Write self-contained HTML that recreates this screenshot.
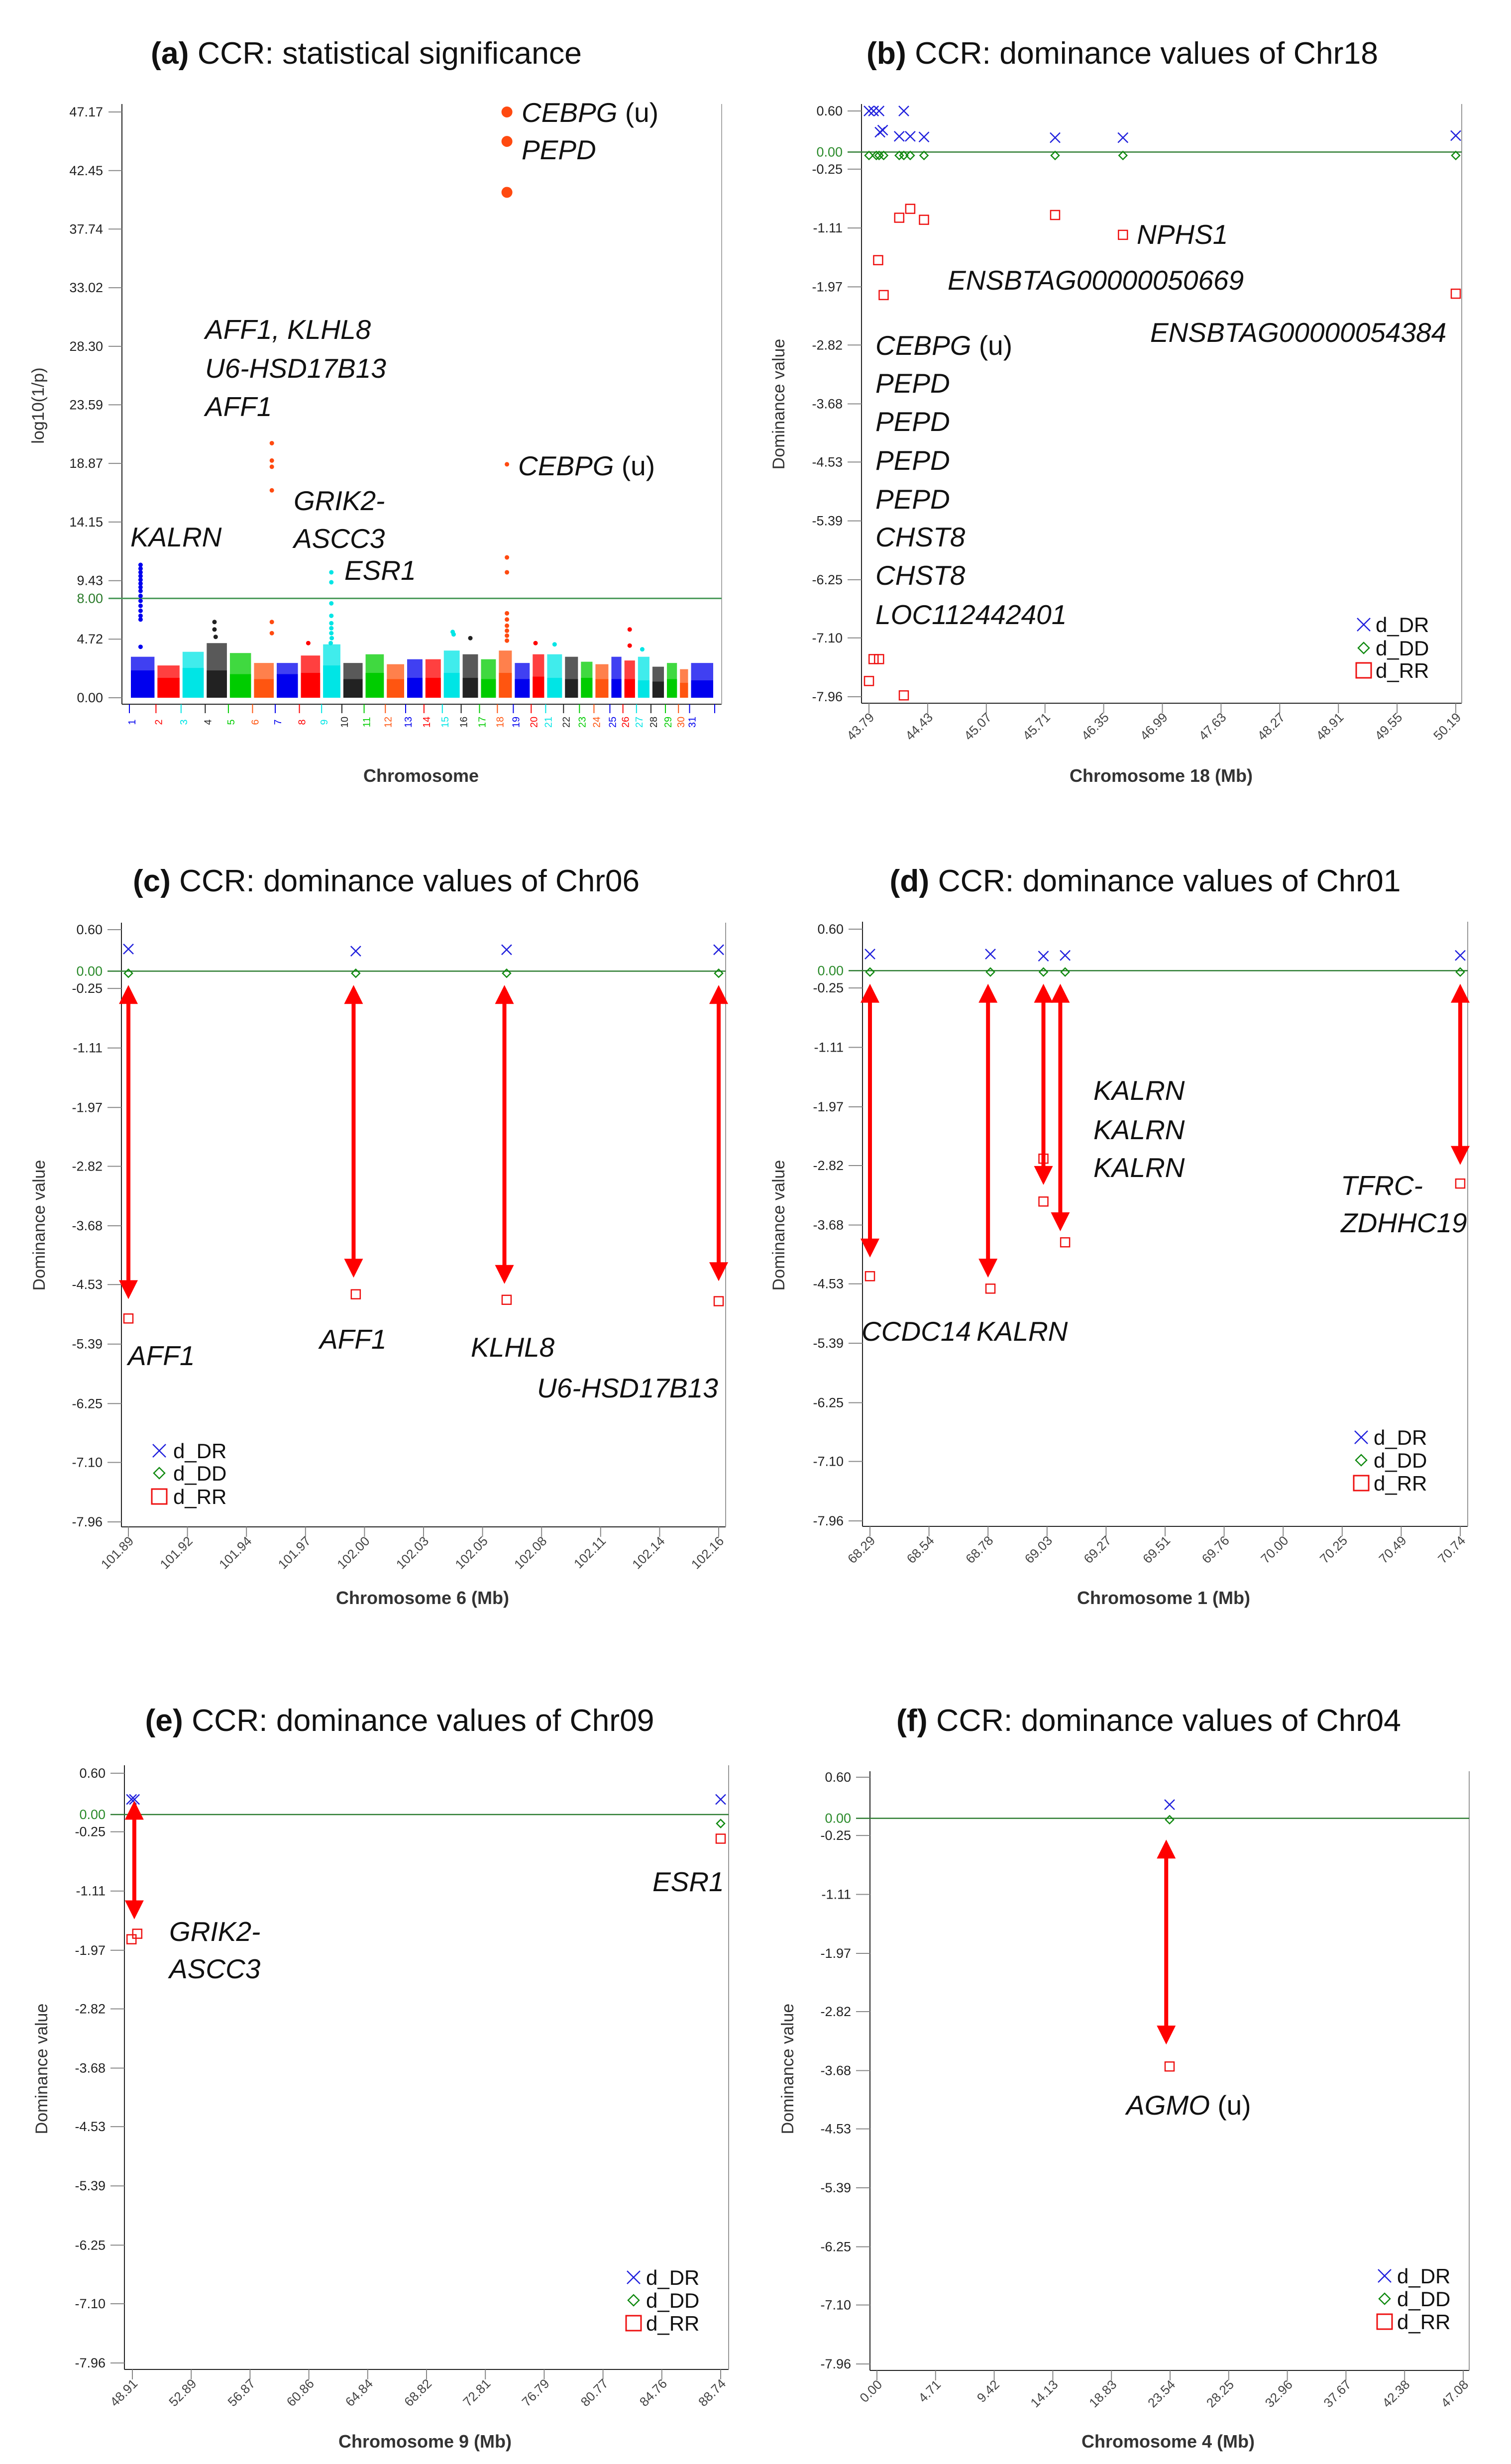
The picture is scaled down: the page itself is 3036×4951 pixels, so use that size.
<!DOCTYPE html>
<html><head><meta charset="utf-8"><title>CCR dominance figure</title>
<style>
html,body{margin:0;padding:0;background:#fff;}
svg{display:block;font-family:"Liberation Sans",sans-serif;}
</style></head>
<body>
<svg id="fig" xmlns="http://www.w3.org/2000/svg" width="3036" height="4951" viewBox="0 0 3036 4951"></svg>
<script>
// ===== Panel (a) data: Manhattan =====
const chromLabels=["1","2","3","4","5","6","7","8","9","10","11","12","13","14","15","16","17","18","19","20","21","22","23","24","25","26","27","28","29","30","31"];
const chromLen=[55,52,50,48,50,47,50,46,42,46,44,42,38,38,39,38,37,33,37,30,37,33,30,33,27,28,30,30,27,23,52];
const chromSolid=[2.2,1.6,2.4,2.2,1.9,1.5,1.9,2.0,2.6,1.5,2.0,1.5,1.6,1.6,2.0,1.6,1.5,2.0,1.5,1.7,1.6,1.5,1.6,1.5,1.5,1.5,1.4,1.3,1.5,1.2,1.4];
const chromSpread=[3.3,2.6,3.7,4.4,3.6,2.8,2.8,3.4,4.3,2.8,3.5,2.7,3.1,3.1,3.8,3.5,3.1,3.8,2.8,3.5,3.5,3.3,2.9,2.7,3.3,3.0,3.3,2.5,2.8,2.3,2.8];
const peakChrom=[1,1,1,1,1,1,1,1,1,1,1,1,1,1,1, 4,4,4, 6,6,6,6,6,6, 9,9,9,9,9,9,9,9,9, 8,15,15,16, 18,18,18,18,18,18,18,18,18,18,18,18, 20,21,26,26,27];
const peakPos=[0.42,0.42,0.42,0.42,0.42,0.42,0.42,0.42,0.42,0.42,0.42,0.42,0.42,0.42,0.42, 0.4,0.4,0.45, 0.85,0.85,0.85,0.85,0.85,0.85, 0.48,0.48,0.48,0.48,0.48,0.48,0.48,0.5,0.45, 0.4,0.55,0.6,0.5, 0.6,0.6,0.6,0.6,0.6,0.6,0.6,0.6,0.6,0.6,0.6,0.6, 0.3,0.5,0.5,0.5,0.4];
const peakVal=[10.7,10.4,10.1,9.8,9.5,9.2,8.9,8.6,8.2,7.8,7.4,7.0,6.6,6.3,4.1, 6.1,5.5,4.9, 20.5,19.1,18.6,16.7,6.1,5.2, 10.1,9.3,7.6,6.6,6.0,5.6,5.2,4.8,4.4, 4.4,5.3,5.1,4.8, 47.17,44.8,40.7,18.8,11.3,10.1,6.8,6.3,5.8,5.4,5.0,4.6, 4.4,4.3,5.5,4.2,3.9];
const peakBig=[0,0,0,0,0,0,0,0,0,0,0,0,0,0,0, 0,0,0, 0,0,0,0,0,0, 0,0,0,0,0,0,0,0,0, 0,0,0,0, 1,1,1,0,0,0,0,0,0,0,0,0, 0,0,0,0,0];
const aYTicks=["0.00","4.72","9.43","14.15","18.87","23.59","28.30","33.02","37.74","42.45","47.17"];
const sigLine=8.00;

// ===== Dominance panels data =====
const domYTicks=["0.60","0.00","-0.25","-1.11","-1.97","-2.82","-3.68","-4.53","-5.39","-6.25","-7.10","-7.96"];
// (b) Chr18
const bXTicks=["43.79","44.43","45.07","45.71","46.35","46.99","47.63","48.27","48.91","49.55","50.19"];
const bDrX=[43.79,43.84,43.90,44.17,43.91,43.94,44.12,44.24,44.39,45.82,46.56,50.19];
const bDrY=[0.60,0.60,0.60,0.60,0.29,0.32,0.23,0.23,0.22,0.21,0.21,0.24];
const bDdX=[43.79,43.87,43.90,43.95,44.12,44.17,44.24,44.39,45.82,46.56,50.19];
const bDdY=[-0.05,-0.05,-0.05,-0.05,-0.05,-0.05,-0.05,-0.05,-0.05,-0.05,-0.05];
const bRrX=[44.12,44.24,44.39,45.82,46.56,43.89,43.95,50.19,43.84,43.90,43.79,44.17];
const bRrY=[-0.96,-0.83,-0.99,-0.92,-1.21,-1.58,-2.09,-2.07,-7.41,-7.41,-7.73,-7.94];
// (c) Chr06
const cXTicks=["101.89","101.92","101.94","101.97","102.00","102.03","102.05","102.08","102.11","102.14","102.16"];
const cDrX=[101.89,101.994,102.063,102.16];
const cDrY=[0.32,0.29,0.31,0.31];
const cDdX=[101.89,101.994,102.063,102.16];
const cDdY=[-0.03,-0.03,-0.03,-0.03];
const cRrX=[101.89,101.994,102.063,102.16];
const cRrY=[-5.02,-4.67,-4.75,-4.77];
const cArrowX=[101.89,101.993,102.062,102.16];
const cArrowTop=[-0.20,-0.20,-0.20,-0.20];
const cArrowBot=[-4.74,-4.43,-4.52,-4.48];
// (d) Chr01
const dXTicks=["68.29","68.54","68.78","69.03","69.27","69.51","69.76","70.00","70.25","70.49","70.74"];
const dDrX=[68.29,68.79,69.01,69.10,70.74];
const dDrY=[0.24,0.24,0.21,0.22,0.22];
const dDdX=[68.29,68.79,69.01,69.10,70.74];
const dDdY=[-0.02,-0.02,-0.02,-0.02,-0.02];
const dRrX=[68.29,68.79,69.01,69.01,69.10,70.74];
const dRrY=[-4.42,-4.60,-2.72,-3.34,-3.93,-3.08];
const dArrowX=[68.29,68.78,69.01,69.08,70.74];
const dArrowTop=[-0.19,-0.19,-0.19,-0.19,-0.19];
const dArrowBot=[-4.15,-4.44,-3.10,-3.77,-2.81];
// (e) Chr09
const eXTicks=["48.91","52.89","56.87","60.86","64.84","68.82","72.81","76.79","80.77","84.76","88.74"];
const eDrX=[48.85,49.05,88.74];
const eDrY=[0.22,0.22,0.22];
const eDdX=[48.98,88.74];
const eDdY=[0.00,-0.13];
const eRrX=[48.85,49.24,88.74];
const eRrY=[-1.81,-1.73,-0.35];
const eArrowX=[49.04];
const eArrowTop=[0.20];
const eArrowBot=[-1.52];
// (f) Chr04
const fXTicks=["0.00","4.71","9.42","14.13","18.83","23.54","28.25","32.96","37.67","42.38","47.08"];
const fDrX=[23.50];
const fDrY=[0.20];
const fDdX=[23.50];
const fDdY=[-0.02];
const fRrX=[23.50];
const fRrY=[-3.62];
const fArrowX=[23.23];
const fArrowTop=[-0.31];
const fArrowBot=[-3.30];

// ===== helpers =====
const NS="http://www.w3.org/2000/svg";
const svg=document.getElementById('fig');
function mk(tag,attrs,parent){const e=document.createElementNS(NS,tag);for(const k in attrs)e.setAttribute(k,attrs[k]);(parent||svg).appendChild(e);return e;}
function lin(d0,d1,r0,r1){return v=>r0+(v-d0)*(r1-r0)/(d1-d0);}
const chromColors=["#0000ee","#ff0000","#00e5e5","#222222","#00cc00","#ff5510"];

function title(g,cx,y,w,bold,rest){
  const t=mk('text',{x:cx,y:y,'text-anchor':'middle','font-size':62,fill:'#111',textLength:w,lengthAdjust:'spacingAndGlyphs'},g);
  
  
  const b=mk('tspan',{'font-weight':'bold'},t);b.textContent=bold;
  const r=mk('tspan',{},t);r.textContent=rest;
}
function gene(g,x,y,name,suffix){
  const t=mk('text',{x:x,y:y,'font-size':55,'font-style':'italic',fill:'#111'},g);
  
  
  const a=mk('tspan',{},t);a.textContent=name;
  if(suffix){const s=mk('tspan',{'font-style':'normal'},t);s.textContent=suffix;}
}
function yTitle(g,x,y,str,size){
  const t=mk('text',{x:x,y:y,'text-anchor':'middle','font-size':size,fill:'#333',transform:`rotate(-90 ${x} ${y})`},g);
  
  
  t.textContent=str;
}
function xTitle(g,x,y,str){
  const t=mk('text',{x:x,y:y,'text-anchor':'middle','font-size':36,'font-weight':'bold',fill:'#333'},g);
  
  
  t.textContent=str;
}
function markX(g,x,y,h,sw){const p=mk('path',{d:`M${x-h} ${y-h}L${x+h} ${y+h}M${x-h} ${y+h}L${x+h} ${y-h}`,stroke:'#2222dd','stroke-width':sw,fill:'none'},g);return p;}
function markD(g,x,y,h,sw){return mk('path',{d:`M${x} ${y-h}L${x+h} ${y}L${x} ${y+h}L${x-h} ${y}Z`,stroke:'#118a11','stroke-width':sw,fill:'none'},g);}
function markS(g,x,y,h,sw){return mk('rect',{x:x-h,y:y-h,width:2*h,height:2*h,stroke:'#ee1111','stroke-width':sw,fill:'none'},g);}

// ===== Panel (a) =====
(function(){
  const g=mk('g',{});
  
  
  title(g,736,128,866,'(a)',' CCR: statistical significance');
  const L=245,R=1450,axTop=209,axBot=1415;
  const y=lin(0,47.17,1402,225);
  const total=chromLen.reduce((a,b)=>a+b,0);
  const x=lin(0,total,260,1436);
  const starts=[];let c=0;for(const l of chromLen){starts.push(c);c+=l;}
  const la=mk('line',{x1:L,y1:axTop,x2:L,y2:axBot,stroke:'#222','stroke-width':2},g);
  
  
  const ba=mk('line',{x1:L,y1:axBot,x2:R,y2:axBot,stroke:'#222','stroke-width':2},g);
  
  
  const ra=mk('line',{x1:R,y1:axTop,x2:R,y2:axBot,stroke:'#aaa','stroke-width':2},g);
  
  
  aYTicks.forEach(s=>{
    const v=parseFloat(s);
    const tk=mk('line',{x1:L-27,y1:y(v),x2:L,y2:y(v),stroke:'#888','stroke-width':2},g);
    
    
    const t=mk('text',{x:L-38,y:y(v)+9,'text-anchor':'end','font-size':27,fill:'#222'},g);
    
    
    t.textContent=s;
  });
  const sl=mk('text',{x:L-38,y:y(sigLine)+9,'text-anchor':'end','font-size':27,fill:'#2a7a2a'},g);
  
  
  sl.textContent=sigLine.toFixed(2);
  yTitle(g,88,815,'log10(1/p)',34);
  xTitle(g,846,1571,'Chromosome');
  chromLen.forEach((l,i)=>{
    const col=chromColors[i%6];
    const x0=x(starts[i])+3,x1=x(starts[i]+l)-3;
    const sp=mk('rect',{x:x0,y:y(chromSpread[i]),width:x1-x0,height:y(0)-y(chromSpread[i]),fill:col,opacity:0.75},g);
    
    
    const so=mk('rect',{x:x0,y:y(chromSolid[i]),width:x1-x0,height:y(0)-y(chromSolid[i]),fill:col},g);
    
    
    const tk=mk('line',{x1:x(starts[i]),y1:axBot,x2:x(starts[i]),y2:axBot+18,stroke:col,'stroke-width':2},g);
    
    
    const tx=x(starts[i])+12,ty=axBot+36;
    const t=mk('text',{x:tx,y:ty,'text-anchor':'middle','font-size':20,fill:col,transform:`rotate(-90 ${tx} ${ty})`},g);
    
    
    t.textContent=chromLabels[i];
  });
  const et=mk('line',{x1:x(total),y1:axBot,x2:x(total),y2:axBot+18,stroke:'#0000ee','stroke-width':2},g);
  
  
  const sg=mk('line',{x1:L-27,y1:y(sigLine),x2:R,y2:y(sigLine),stroke:'#4a9a5a','stroke-width':3},g);
  
  
  peakVal.forEach((v,i)=>{
    const ci=peakChrom[i]-1;
    const px=x(starts[ci]+peakPos[i]*chromLen[ci]);
    const col=chromColors[ci%6]==='#ff5510'?'#ff4a10':chromColors[ci%6];
    const d=mk('circle',{cx:px,cy:y(v),r:peakBig[i]?11:4.5,fill:col},g);
    
    
  });
  gene(g,1048,245,'CEBPG',' (u)');
  gene(g,1048,320,'PEPD');
  gene(g,412,681,'AFF1, KLHL8');
  gene(g,412,759,'U6-HSD17B13');
  gene(g,412,836,'AFF1');
  gene(g,1041,955,'CEBPG',' (u)');
  gene(g,590,1025,'GRIK2-');
  gene(g,590,1101,'ASCC3');
  gene(g,262,1098,'KALRN');
  gene(g,692,1165,'ESR1');
})();

// ===== Dominance panels =====
function domPanel(cfg,xt,drX,drY,ddX,ddY,rrX,rrY,arX,arT,arB){
  const g=mk('g',{});
  
  
  title(g,cfg.tcx,cfg.ty,cfg.tw,cfg.tb,cfg.tr);
  const y=lin(0.60,-7.96,cfg.y0,cfg.y1);
  const x=lin(parseFloat(xt[0]),parseFloat(xt[xt.length-1]),cfg.x0,cfg.x1);
  const la=mk('line',{x1:cfg.L,y1:cfg.top,x2:cfg.L,y2:cfg.bot,stroke:'#222','stroke-width':2},g);
  
  
  const ba=mk('line',{x1:cfg.L,y1:cfg.bot,x2:cfg.R,y2:cfg.bot,stroke:'#222','stroke-width':2},g);
  
  
  const ra=mk('line',{x1:cfg.R,y1:cfg.top,x2:cfg.R,y2:cfg.bot,stroke:'#999','stroke-width':2},g);
  
  
  domYTicks.forEach(s=>{
    const v=parseFloat(s);
    const tk=mk('line',{x1:cfg.L-28,y1:y(v),x2:cfg.L,y2:y(v),stroke:'#888','stroke-width':2},g);
    
    
    const t=mk('text',{x:cfg.L-38,y:y(v)+9,'text-anchor':'end','font-size':27,fill:s==='0.00'?'#2a8a2a':'#222'},g);
    
    
    t.textContent=s;
  });
  xt.forEach((s,i)=>{
    const px=cfg.x0+(cfg.x1-cfg.x0)*i/(xt.length-1);
    const tk=mk('line',{x1:px,y1:cfg.bot,x2:px,y2:cfg.bot+20,stroke:'#888','stroke-width':2},g);
    
    
    const tx=px+12,ty=cfg.bot+30;
    const t=mk('text',{x:tx,y:ty,'text-anchor':'end','font-size':26,fill:'#444',transform:`rotate(-45 ${tx} ${ty})`},g);
    
    
    t.textContent=s;
  });
  const zl=mk('line',{x1:cfg.L-28,y1:y(0),x2:cfg.R,y2:y(0),stroke:'#2e7d32','stroke-width':2.5},g);
  
  
  yTitle(g,cfg.ytx,cfg.yty,'Dominance value',34);
  xTitle(g,cfg.xtx,cfg.xty,cfg.xtitle);
  drX.forEach((v,i)=>{const m=markX(g,x(v),y(drY[i]),10,2.5);
    
    });
  ddX.forEach((v,i)=>{const m=markD(g,x(v),y(ddY[i]),8,2.5);
    
    });
  rrX.forEach((v,i)=>{const m=markS(g,x(v),y(rrY[i]),9,2.5);
    
    });
  if(arX){arX.forEach((v,i)=>{
    const px=x(v),t0=y(arT[i]),b0=y(arB[i]),hh=38,hw=19;
    const ag=mk('g',{},g);
    
    
    mk('line',{x1:px,y1:t0+hh-2,x2:px,y2:b0-hh+2,stroke:'#ff0000','stroke-width':8},ag);
    mk('polygon',{points:`${px},${t0} ${px-hw},${t0+hh} ${px+hw},${t0+hh}`,fill:'#ff0000'},ag);
    mk('polygon',{points:`${px},${b0} ${px-hw},${b0-hh} ${px+hw},${b0-hh}`,fill:'#ff0000'},ag);
  });}
  const lg=mk('g',{},g);
  
  
  const names=['d_DR','d_DD','d_RR'];
  names.forEach((n,i)=>{
    const ry=cfg.legY[i];
    const m=i===0?markX(lg,cfg.legX,ry,13,2.5):i===1?markD(lg,cfg.legX,ry,11,2.5):markS(lg,cfg.legX,ry,15,3);
    
    
    const t=mk('text',{x:cfg.legTX,y:ry+15,'font-size':42,fill:'#111'},lg);
    
    
    t.textContent=n;
  });
  cfg.genes.forEach(gn=>gene(g,gn[0],gn[1],gn[2],gn[3]));
}

domPanel({name:'panel-b-chr18',tcx:2255,ty:128,tw:1028,tb:'(b)',tr:' CCR: dominance values of Chr18',
  L:1731,R:2937,top:209,bot:1413,y0:223,y1:1400,x0:1746,x1:2925,ytx:1576,yty:812,xtx:2333,xty:1571,xtitle:'Chromosome 18 (Mb)',
  legX:2740,legY:[1255,1302,1347],legTX:2764,
  genes:[[2284,490,'NPHS1'],[1904,582,'ENSBTAG00000050669'],[2311,687,'ENSBTAG00000054384'],[1759,713,'CEBPG',' (u)'],[1759,789,'PEPD'],[1759,866,'PEPD'],[1759,944,'PEPD'],[1759,1022,'PEPD'],[1759,1098,'CHST8'],[1759,1175,'CHST8'],[1759,1254,'LOC112442401']]},
  bXTicks,bDrX,bDrY,bDdX,bDdY,bRrX,bRrY,null,null,null);

domPanel({name:'panel-c-chr06',tcx:776,ty:1791,tw:1018,tb:'(c)',tr:' CCR: dominance values of Chr06',
  L:244,R:1458,top:1854,bot:3068,y0:1868,y1:3058,x0:258,x1:1444,ytx:90,yty:2462,xtx:849,xty:3223,xtitle:'Chromosome 6 (Mb)',
  legX:320,legY:[2915,2960,3007],legTX:348,
  genes:[[257,2743,'AFF1'],[642,2710,'AFF1'],[946,2726,'KLHL8'],[1079,2808,'U6-HSD17B13']]},
  cXTicks,cDrX,cDrY,cDdX,cDdY,cRrX,cRrY,cArrowX,cArrowTop,cArrowBot);

domPanel({name:'panel-d-chr01',tcx:2301,ty:1791,tw:1027,tb:'(d)',tr:' CCR: dominance values of Chr01',
  L:1733,R:2949,top:1852,bot:3067,y0:1867,y1:3056,x0:1748,x1:2934,ytx:1576,yty:2462,xtx:2338,xty:3223,xtitle:'Chromosome 1 (Mb)',
  legX:2735,legY:[2888,2934,2980],legTX:2760,
  genes:[[2197,2210,'KALRN'],[2197,2289,'KALRN'],[2197,2365,'KALRN'],[2694,2401,'TFRC-'],[2694,2476,'ZDHHC19'],[1731,2694,'CCDC14'],[1962,2694,'KALRN']]},
  dXTicks,dDrX,dDrY,dDdX,dDdY,dRrX,dRrY,dArrowX,dArrowTop,dArrowBot);

domPanel({name:'panel-e-chr09',tcx:803,ty:3478,tw:1023,tb:'(e)',tr:' CCR: dominance values of Chr09',
  L:250,R:1464,top:3547,bot:4761,y0:3563,y1:4748,x0:266,x1:1448,ytx:95,yty:4157,xtx:854,xty:4918,xtitle:'Chromosome 9 (Mb)',
  legX:1273,legY:[4576,4622,4668],legTX:1298,
  genes:[[1311,3800,'ESR1'],[340,3900,'GRIK2-'],[340,3975,'ASCC3']]},
  eXTicks,eDrX,eDrY,eDdX,eDdY,eRrX,eRrY,eArrowX,eArrowTop,eArrowBot);

domPanel({name:'panel-f-chr04',tcx:2308,ty:3478,tw:1014,tb:'(f)',tr:' CCR: dominance values of Chr04',
  L:1748,R:2952,top:3559,bot:4763,y0:3571,y1:4750,x0:1762,x1:2940,ytx:1594,yty:4157,xtx:2347,xty:4918,xtitle:'Chromosome 4 (Mb)',
  legX:2782,legY:[4573,4619,4665],legTX:2807,
  genes:[[2263,4249,'AGMO',' (u)']]},
  fXTicks,fDrX,fDrY,fDdX,fDdY,fRrX,fRrY,fArrowX,fArrowTop,fArrowBot);
</script>
</body></html>
